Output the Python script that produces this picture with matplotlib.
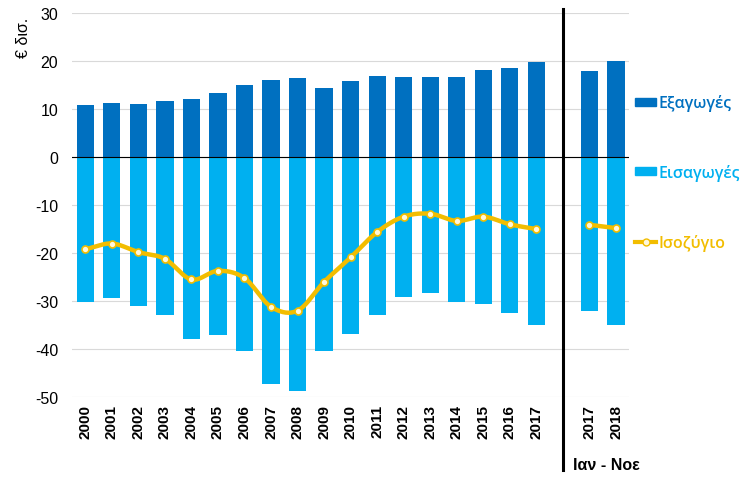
import numpy as np
import matplotlib
matplotlib.use("Agg")
import matplotlib.pyplot as plt
from matplotlib.lines import Line2D

# ---------------- data ----------------
categories = ["2000", "2001", "2002", "2003", "2004", "2005", "2006", "2007", "2008",
              "2009", "2010", "2011", "2012", "2013", "2014", "2015", "2016", "2017",
              "", "2017", "2018"]
exports = [10.9, 11.3, 11.0, 11.7, 12.2, 13.3, 15.0, 16.0, 16.5, 14.4, 15.8, 16.9,
           16.8, 16.7, 16.8, 18.2, 18.5, 19.9, None, 18.0, 20.0]
imports = [-30.1, -29.3, -31.0, -33.0, -37.8, -37.0, -40.3, -47.2, -48.7, -40.5, -36.8,
           -32.8, -29.2, -28.4, -30.1, -30.7, -32.4, -35.0, None, -32.1, -35.0]
balance = [-19.2, -18.0, -19.8, -21.2, -25.5, -23.7, -25.2, -31.2, -32.0, -26.0, -20.9,
           -15.6, -12.4, -11.8, -13.3, -12.4, -14.0, -15.0, None, -14.1, -14.8]
yticks = [-50, -40, -30, -20, -10, 0, 10, 20, 30]
series_names = ["Εξαγωγές", "Εισαγωγές", "Ισοζύγιο"]
period_label = "Ιαν - Νοε"
y_label = "€ δισ."

c_exp = "#0070C0"
c_imp = "#00B0F0"
c_bal = "#F2BD00"

plt.rcParams["font.family"] = ["Liberation Sans", "DejaVu Sans"]
plt.rcParams["axes.unicode_minus"] = False

fig = plt.figure(figsize=(7.47, 4.89), dpi=100)
ax = fig.add_axes([0.0964, 0.186, 0.746, 0.785])

x = np.arange(len(categories))
mask = [v is not None for v in exports]
xb = x[mask]
ax.bar(xb, [v for v in exports if v is not None], width=0.65, color=c_exp, zorder=2)
ax.bar(xb, [v for v in imports if v is not None], width=0.65, color=c_imp, zorder=2)


def smooth(xs, ys, n=20):
    xs = np.asarray(xs, float)
    ys = np.asarray(ys, float)
    if len(xs) < 3:
        return xs, ys
    px = np.concatenate([[2 * xs[0] - xs[1]], xs, [2 * xs[-1] - xs[-2]]])
    py = np.concatenate([[2 * ys[0] - ys[1]], ys, [2 * ys[-1] - ys[-2]]])
    ox, oy = [], []
    for i in range(1, len(px) - 2):
        t = np.linspace(0, 1, n, endpoint=False)
        for arr, out in ((px, ox), (py, oy)):
            p0, p1, p2, p3 = arr[i - 1], arr[i], arr[i + 1], arr[i + 2]
            out.extend(0.5 * ((2 * p1) + (-p0 + p2) * t + (2 * p0 - 5 * p1 + 4 * p2 - p3) * t ** 2
                              + (-p0 + 3 * p1 - 3 * p2 + p3) * t ** 3))
    ox.append(xs[-1]); oy.append(ys[-1])
    return np.array(ox), np.array(oy)


# segments of balance line (split at gap)
segs, cur = [], []
for xi, v in zip(x, balance):
    if v is None:
        if cur:
            segs.append(cur)
        cur = []
    else:
        cur.append((xi, v))
if cur:
    segs.append(cur)
for s in segs:
    sx, sy = zip(*s)
    lx, ly = smooth(sx, sy)
    ax.plot(lx, ly, color=c_bal, lw=3.2, zorder=3, solid_capstyle="round")
    ax.plot(sx, sy, ls="none", marker="o", ms=5, mfc="#FFF8DC", mec=c_bal, mew=1.2, zorder=4)

ax.axhline(0, color="black", lw=0.8, zorder=2.5)
ax.set_xlim(-0.5, len(categories) - 0.5)
ax.set_ylim(-50, 30)
ax.set_yticks(yticks)
ax.yaxis.grid(True, color="#D9D9D9", lw=0.8, zorder=0)
ax.set_axisbelow(True)
for sp in ax.spines.values():
    sp.set_visible(False)
ax.tick_params(axis="both", length=0)
ax.tick_params(axis="y", labelsize=11.5, pad=10)
ax.set_xticks(x)
ax.set_xticklabels(categories, rotation=90, fontsize=11, fontweight="bold")
ax.tick_params(axis="x", pad=5)

# vertical separator
ax.plot([18, 18], [1.011, -0.19], transform=ax.get_xaxis_transform(),
        color="black", lw=2.2, clip_on=False, zorder=5)
ax.annotate(period_label, xy=(18, 0), xycoords=("data", "axes fraction"),
            xytext=(7, -48.5), textcoords="offset points", fontsize=11.5, fontweight="bold",
            ha="left", va="center", annotation_clip=False)

fig.text(0.031, 0.922, y_label, rotation=90, fontsize=11.5, ha="center", va="center")

handles = [
    plt.Rectangle((0, 0), 1, 1, color=c_exp),
    plt.Rectangle((0, 0), 1, 1, color=c_imp),
    Line2D([], [], color=c_bal, lw=3, marker="o", ms=5, mfc="#FFF8DC", mec=c_bal),
]
leg = fig.legend(handles, series_names, loc="upper left", bbox_to_anchor=(0.842, 0.818),
                 frameon=False, handlelength=1.3, handleheight=0.4,
                 handletextpad=0.15, labelspacing=3.3, borderaxespad=0,
                 prop={"family": ["Open Sans", "DejaVu Sans"], "size": 11.5, "weight": "semibold"})
for t, c in zip(leg.get_texts(), [c_exp, c_imp, c_bal]):
    t.set_color(c)

fig.savefig("out.png", dpi=100)
